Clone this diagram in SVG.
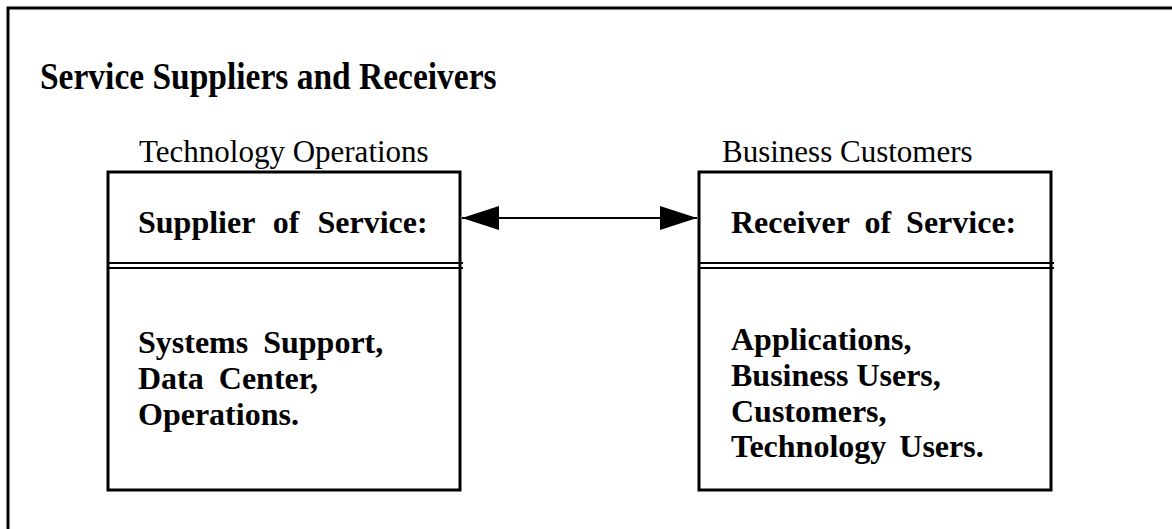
<svg xmlns="http://www.w3.org/2000/svg" width="1172" height="529" viewBox="0 0 1172 529">
  <style>
    .frame { fill: none; stroke: #000; stroke-width: 3; }
    .box { fill: #fff; stroke: #000; stroke-width: 3; }
    .rule { stroke: #000; stroke-width: 2; }
    .title { font-family: "Liberation Serif", "Times New Roman", serif; font-weight: bold; font-size: 33.5px; fill: #000; }
    .cap { font-family: "Liberation Serif", "Times New Roman", serif; font-size: 31px; fill: #000; }
    .body { font-family: "Liberation Serif", "Times New Roman", serif; font-weight: bold; font-size: 32px; fill: #000; }
    .wide { word-spacing: 7px; }
    .link { stroke: #000; stroke-width: 2; fill: none; }
  </style>
  <defs>
    <marker id="head" markerUnits="userSpaceOnUse" markerWidth="38" markerHeight="24" refX="37" refY="12" orient="auto-start-reverse">
      <path d="M0,0 L37,12 L0,24 Z" fill="#000"/>
    </marker>
  </defs>

  <rect width="1172" height="529" fill="#fff"/>

  <!-- page frame: top and left edges only -->
  <path class="frame" d="M8,529 V8 H1172"/>

  <text class="title" transform="translate(40,89) scale(1,1.12)">Service Suppliers and Receivers</text>

  <g id="supplier">
    <text class="cap" x="139" y="162">Technology Operations</text>
    <rect class="box" x="108" y="172" width="352" height="318"/>
    <line class="rule" x1="108" y1="263" x2="463" y2="263"/>
    <line class="rule" x1="108" y1="268" x2="463" y2="268"/>
    <text class="body" x="138" y="233" word-spacing="10">Supplier of Service:</text>
    <text class="body wide" x="138" y="353">Systems Support,</text>
    <text class="body wide" x="138" y="389">Data Center,</text>
    <text class="body" x="138" y="425">Operations.</text>
  </g>

  <g id="receiver">
    <text class="cap" x="722" y="162">Business Customers</text>
    <rect class="box" x="699" y="172" width="352" height="318"/>
    <line class="rule" x1="699" y1="263" x2="1054" y2="263"/>
    <line class="rule" x1="699" y1="268" x2="1054" y2="268"/>
    <text class="body wide" x="731" y="233">Receiver of Service:</text>
    <text class="body" x="731" y="350">Applications,</text>
    <text class="body" x="731" y="386">Business Users,</text>
    <text class="body" x="731" y="422">Customers,</text>
    <text class="body" x="731" y="457" word-spacing="5">Technology Users.</text>
  </g>

  <g id="connectors">
    <line class="link" x1="462" y1="218" x2="697" y2="218" marker-start="url(#head)" marker-end="url(#head)"/>
  </g>
</svg>
